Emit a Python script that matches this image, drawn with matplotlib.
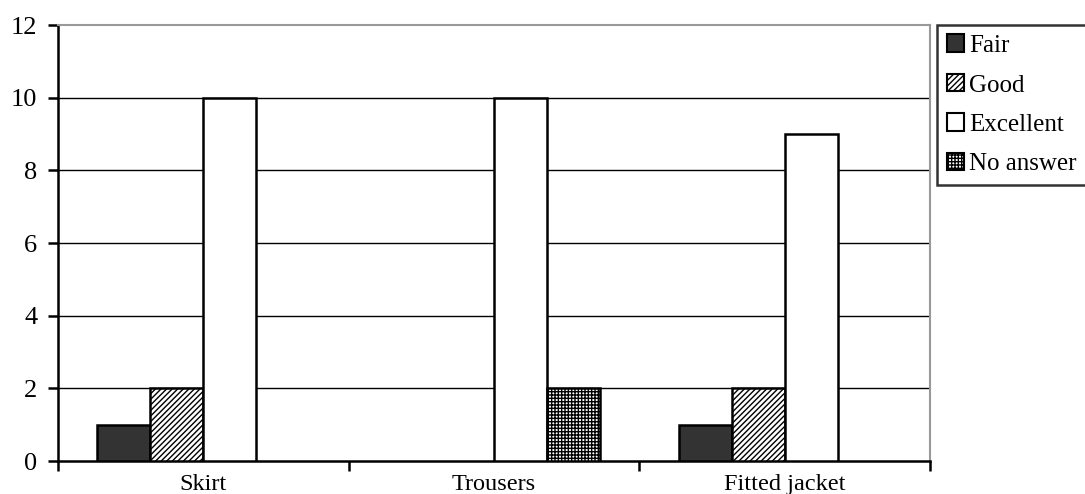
import matplotlib
matplotlib.use("Agg")
import matplotlib.pyplot as plt
import numpy as np
from matplotlib.patches import Patch

categories = ["Skirt", "Trousers", "Fitted jacket"]
series = ["Fair", "Good", "Excellent", "No answer"]
fair = [1, 0, 1]
good = [2, 0, 2]
excellent = [10, 10, 9]
no_answer = [0, 2, 0]
yticks = [0, 2, 4, 6, 8, 10, 12]

plt.rcParams["font.family"] = ["Liberation Serif", "DejaVu Serif"]
plt.rcParams["hatch.linewidth"] = 1.0

fig = plt.figure(figsize=(10.85, 4.94), dpi=100)
ax = fig.add_axes([58 / 1085, 33 / 494, (930 - 58) / 1085, (461 - 25) / 494])

styles = [
    dict(facecolor="#333333", hatch=None),
    dict(facecolor="white", hatch="//////"),
    dict(facecolor="white", hatch=None),
    dict(facecolor="white", hatch="+++++"),
]
values = [fair, good, excellent, no_answer]
x = np.arange(len(categories))
width = 0.1825
offsets = [-2, -1, 0, 1]
for vals, st, off in zip(values, styles, offsets):
    for xi, v in zip(x, vals):
        if v > 0:
            ax.bar(xi + off * width, v, width=width, align="edge",
                   facecolor=st["facecolor"], hatch=st["hatch"],
                   edgecolor="black", linewidth=1.8, zorder=3)

ax.set_xlim(-0.5, len(categories) - 0.5)
ax.set_ylim(0, 12)
ax.set_yticks(yticks)
ax.set_yticklabels([str(t) for t in yticks], fontsize=19)
for t in yticks[1:-1]:
    ax.axhline(t, color="black", linewidth=1.0, zorder=1)

ax.set_xticks(x)
ax.set_xticklabels(categories, fontsize=17.5)
ax.set_xticks(np.arange(-0.5, len(categories)), minor=True)
ax.tick_params(axis="x", which="major", length=0, pad=9.5)
ax.tick_params(axis="x", which="minor", length=7, width=1.8, direction="out")
ax.tick_params(axis="y", length=7, width=1.8, direction="out", pad=8)

for side in ("left", "bottom"):
    ax.spines[side].set_linewidth(1.8)
    ax.spines[side].set_color("black")
for side in ("top", "right"):
    ax.spines[side].set_linewidth(1.5)
    ax.spines[side].set_color("#999999")

handles = [Patch(facecolor=st["facecolor"], hatch=st["hatch"], edgecolor="black",
                 linewidth=1.5, label=name) for st, name in zip(styles, series)]
leg = fig.legend(handles=handles, loc="upper left", bbox_to_anchor=(937 / 1085, 1 - 25 / 494),
                 fontsize=18, frameon=True, fancybox=False, handlelength=0.7,
                 handleheight=0.7, handletextpad=0.2, labelspacing=0.68,
                 borderpad=0.38, borderaxespad=0)
leg.get_frame().set_edgecolor("black")
leg.get_frame().set_linewidth(1.8)

fig.savefig("out.png", dpi=100)
